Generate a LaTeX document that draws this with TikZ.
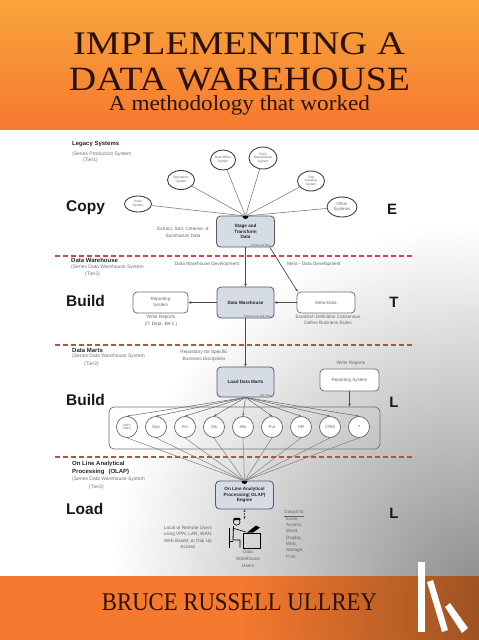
\documentclass[tikz,border=0pt]{standalone}
\usepackage{fontspec}
\setmainfont{Liberation Serif}
\newfontfamily\arialf{Liberation Sans}
\usetikzlibrary{shapes.geometric,arrows.meta}
\definecolor{orTop}{HTML}{F9A53C}
\definecolor{orBot}{HTML}{F5792F}
\definecolor{titlec}{HTML}{2A1208}
\definecolor{boxfill}{HTML}{D6DCE6}
\definecolor{dashred}{HTML}{D2443F}
\definecolor{brownR}{HTML}{8A4A1E}
\newcommand\fsz[2]{\fontsize{#1}{#2}\selectfont}
\begin{document}
\begin{tikzpicture}[x=1pt,y=-1pt,
  sys/.style={ellipse, draw=black!75, line width=0.9pt, inner sep=0pt, align=center, font=\arialf\fsz{3.2}{3.7}, text=black!60, fill=white},
  bbox/.style={draw=black!65, line width=0.8pt, rounded corners=4pt, fill=boxfill, align=center, font=\arialf\bfseries\fsz{4.6}{5.8}, text=black!85, inner sep=0pt},
  wbox/.style={draw=black!55, line width=0.8pt, rounded corners=4pt, fill=white, align=center, font=\arialf\fsz{4.5}{5.5}, text=black!60, inner sep=0pt},
  tiny/.style={font=\arialf\fsz{2.8}{3}, text=black!60, inner sep=1pt, anchor=south east},
  mart/.style={circle, draw=black!60, line width=0.7pt, minimum size=21pt, inner sep=0pt, align=center, font=\arialf\fsz{4.2}{4.8}, text=black!60, fill=white},
  note/.style={align=center, font=\arialf\fsz{4.7}{6.6}, text=black!60, inner sep=0pt},
  head/.style={anchor=west, font=\arialf\bfseries\fsz{6}{7}, text=black!85, inner sep=0pt},
  sub/.style={anchor=west, font=\arialf\fsz{5}{6}, text=black!55, inner sep=0pt},
  phase/.style={anchor=west, font=\arialf\bfseries\fsz{15.5}{16}, text=black!90, inner sep=0pt},
  etl/.style={font=\arialf\bfseries\fsz{15}{16}, text=black!90, inner sep=0pt},
  sepline/.style={dashred, dash pattern=on 5pt off 3pt, line width=1.3pt},
  conn/.style={black!50, line width=0.6pt},
  arr/.style={black!70, line width=0.7pt, -{Stealth[length=3pt,width=2.6pt]}},
  marr/.style={black!60, line width=0.5pt, -{Stealth[length=2.6pt,width=2.2pt]}},
  ttl/.style={anchor=base, inner sep=0pt, text=titlec}
]
\useasboundingbox (0,0) rectangle (479,640);
\fill[white] (0,0) rectangle (479,640);
% grey shade in the lower right of the diagram area
\begin{scope}
  \clip (0,129) rectangle (479,577);
  \shade[inner color=black!45, outer color=white] (479,592) circle (370);
\end{scope}
% top band
\shade[top color=orTop, bottom color=orBot] (0,0) rectangle (479,129);
% bottom band
\begin{scope}
  \clip (0,576) rectangle (479,640);
  \fill[orBot] (0,576) rectangle (479,640);
  \shade[inner color=brownR, outer color=orBot] (530,610) circle (290);
\end{scope}
% title
\node[ttl] (t1) at (239,54.5) {\resizebox{332pt}{\height}{\fsz{33}{40}IMPLEMENTING A}};
\node[ttl] (t2) at (239.5,90) {\resizebox{341pt}{\height}{\fsz{34}{40}DATA WAREHOUSE}};
\node[ttl] (t3) at (239.5,110.5) {\resizebox{261pt}{\height}{\fsz{21.5}{26}A methodology that worked}};
\node[ttl] (au) at (239.5,610) {\resizebox{275pt}{\height}{\fsz{25.5}{30}BRUCE RUSSELL ULLREY}};
% logo
\fill[white] (418,562) rectangle (425,632);
\fill[white] (427,582) -- (433,580) -- (448,630) -- (442,632) -- cycle;
\fill[white] (445,607) -- (450,603) -- (468,628) -- (462,633) -- cycle;

% separators
\draw[sepline] (55,256) -- (415,256);
\draw[sepline] (55,345) -- (415,345);
\draw[sepline] (55,457) -- (415,457);

% phase labels
\node[phase] (cp) at (66,208) {Copy};
\node[phase] (b1) at (66,301) {Build};
\node[phase] (b2) at (66,400) {Build};
\node[phase] (ld) at (66,509) {Load};
\node[etl] (eE) at (392,209) {E};
\node[etl] (eT) at (394,302) {T};
\node[etl] (eL1) at (394,402) {L};
\node[etl] (eL2) at (394,513) {L};

% left headings
\node[head] (h1) at (72,144) {Legacy Systems};
\node[sub] (h1a) at (72,154) {(Series Production System};
\node[sub] (h1b) at (83,160) {(Tier1)};
\node[head] (h2) at (71,260) {Data Warehouse};
\node[sub] (h2a) at (71,267) {(Series Data Warehouse System};
\node[sub] (h2b) at (85,274) {(Tier2)};
\node[head] (h3) at (72,350) {Data Marts};
\node[sub] (h3a) at (72,356.5) {(Series Data Warehouse System};
\node[sub] (h3b) at (84,364) {(Tier2)};
\node[head] (h4) at (72,464) {On Line Analytical};
\node[head] (h4a) at (72,472) {Processing\hspace{4pt}(OLAP)};
\node[sub] (h4b) at (72,479) {(Series Data Warehouse System};
\node[sub] (h4c) at (89,487) {(Tier2)};

% stage
\node[bbox, minimum width=58pt, minimum height=31pt] (stage) at (245.5,231.5) {Stage and\\Transform\\Data};
\node[tiny] (stagef) at ([xshift=-3pt]stage.south east) {Relational Files};
\coordinate (hub1) at (245.5,216);
\node[sys, minimum width=27pt, minimum height=16pt] (s1) at (138,204) {Scale\\System};
\node[sys, minimum width=27pt, minimum height=19pt] (s2) at (181,180) {Operations\\System};
\node[sys, minimum width=25pt, minimum height=20pt] (s3) at (223,160) {Back Office\\System};
\node[sys, minimum width=28pt, minimum height=22pt] (s4) at (263,158) {Truck\\Maintenance\\System};
\node[sys, minimum width=27pt, minimum height=20pt] (s5) at (311,181) {Time\\Keeping\\System};
\node[sys, minimum width=30pt, minimum height=20pt, font=\arialf\fsz{4.3}{5}] (s6) at (342,207) {Other\\Systems};
\foreach \s in {s1,s2,s3,s4,s5,s6} \draw[conn] (\s) -- (hub1);
\fill[black] ([xshift=-3pt]hub1) arc[start angle=180, end angle=360, radius=3pt] -- cycle;
\node[note] (n1) at (183,232.5) {Extract, Sort, Cleanse, \&\\Summarize Data};

% data warehouse
\node[bbox, minimum width=57pt, minimum height=31pt] (dw) at (245.5,302.5) {Data Warehouse};
\node[tiny] (dwf) at ([xshift=-2pt]dw.south east) {Relational \& Flat Files};
\node[wbox, minimum width=55pt, minimum height=21pt] (rep1) at (160.5,302.5) {Reporting\\System};
\node[wbox, minimum width=58pt, minimum height=21pt] (meta) at (326,302.5) {Meta-Data};
\draw[arr] (stage) -- (dw);
\draw[arr] ([xshift=-5pt]stage.south east) -- ([xshift=1pt]meta.north west);
\draw[arr] (meta) -- (dw);
\draw[arr] (dw) -- (rep1);
\node[note] (n2) at (207,264) {Data Warehouse Development};
\node[note] (n3) at (314,264) {Meta - Data Development};
\node[note] (n4) at (161,320.5) {Write Reports\\(IT Dept. BA's )};
\node[note] (n5) at (328,320) {Establish Definition Consensus\\Define Business Rules};

% data marts
\node[bbox, minimum width=57pt, minimum height=30pt] (ldm) at (245.5,382) {Load Data Marts};
\node[tiny] (ldmf) at ([xshift=-2pt]ldm.south east) {Flat Files};
\draw[arr] (dw) -- (ldm);
\node[note] (n6) at (204,356) {Repository for Specific\\Business Disciplines};
\node[wbox, minimum width=59pt, minimum height=22pt] (rep2) at (349.5,380) {Reporting System};
\node[note] (n7) at (351,363) {Write Reports};
\node[draw=black!55, line width=0.8pt, rounded corners=5pt, minimum width=271pt, minimum height=42pt, inner sep=0pt] (grp) at (244.5,428) {};
\draw[arr] (rep2) -- (rep2 |- grp.north);

% OLAP
\node[bbox, minimum width=58pt, minimum height=28pt] (olap) at (244.5,495) {On Line Analytical\\Processing( OLAP)\\Engine};
\coordinate (hub2) at (244.5,481);

\node[mart, font=\arialf\fsz{3}{3.6}] (m1) at (127,427) {ARPs\\CBP's};
\foreach \i/\x/\t in {2/156/Ops,3/185/Fin,4/214/Sls,5/243/Mtn,6/272/Pur,7/301/HR,8/330/CRM,9/359/?} {
  \node[mart] (m\i) at (\x,427) {\t};
}
\foreach \i in {1,...,9} {
  \draw[marr] (ldm.south) -- (m\i.north);
  \draw[conn, line width=0.5pt] (m\i.south) -- (hub2);
}
\fill[black] ([xshift=-3pt]hub2) arc[start angle=180, end angle=360, radius=3pt] -- cycle;

% users
\coordinate (usr) at (244.5,519);
\draw[black!70, line width=0.7pt, dash pattern=on 1pt off 0.8pt, {Stealth[length=2.4pt,width=2.4pt]}-{Stealth[length=2.4pt,width=2.4pt]}] (olap.south) -- (usr);
\draw[black, line width=0.6pt] (236.7,521.8) circle (3.4);
\fill[black] (233,520.5) -- (234,518) -- (239,517.8) -- (241,519.5) -- cycle;
\draw[black, line width=0.8pt] (233.5,526) -- (233,540) -- (240,540) -- (240,547.5);
\draw[black, line width=0.6pt] (229.5,528) -- (229.5,548);
\draw[black, line width=0.6pt] (229.5,541) -- (233,541);
\draw[black, line width=0.6pt] (234,528.5) -- (246,532);
\draw[black, line width=0.6pt] (243,533) rectangle (260,548);
\fill[black] (247,532.5) -- (256,525.5) -- (260,527.5) -- (253,532.5) -- cycle;
\node[note, font=\arialf\fsz{4.7}{6.5}] (n8) at (188,537.5) {Local or Remote Users\\using VPN, LAN, WAN,\\Web Based, or Dial Up\\Access};
\node[note, font=\arialf\fsz{4.7}{7}] (n9) at (248,559) {Data\\Warehouse\\Users};
\node[note, anchor=north west, align=left, font=\arialf\fsz{4.6}{6.3}] (n10) at (284,510.5) {\underline{Output to:}\\\hspace*{2pt}Excel,\\\hspace*{2pt}Access,\\\hspace*{2pt}Word,\\\hspace*{2pt}Display,\\\hspace*{2pt}Web,\\\hspace*{2pt}Storage,\\\hspace*{2pt}Print};
\end{tikzpicture}
\end{document}
